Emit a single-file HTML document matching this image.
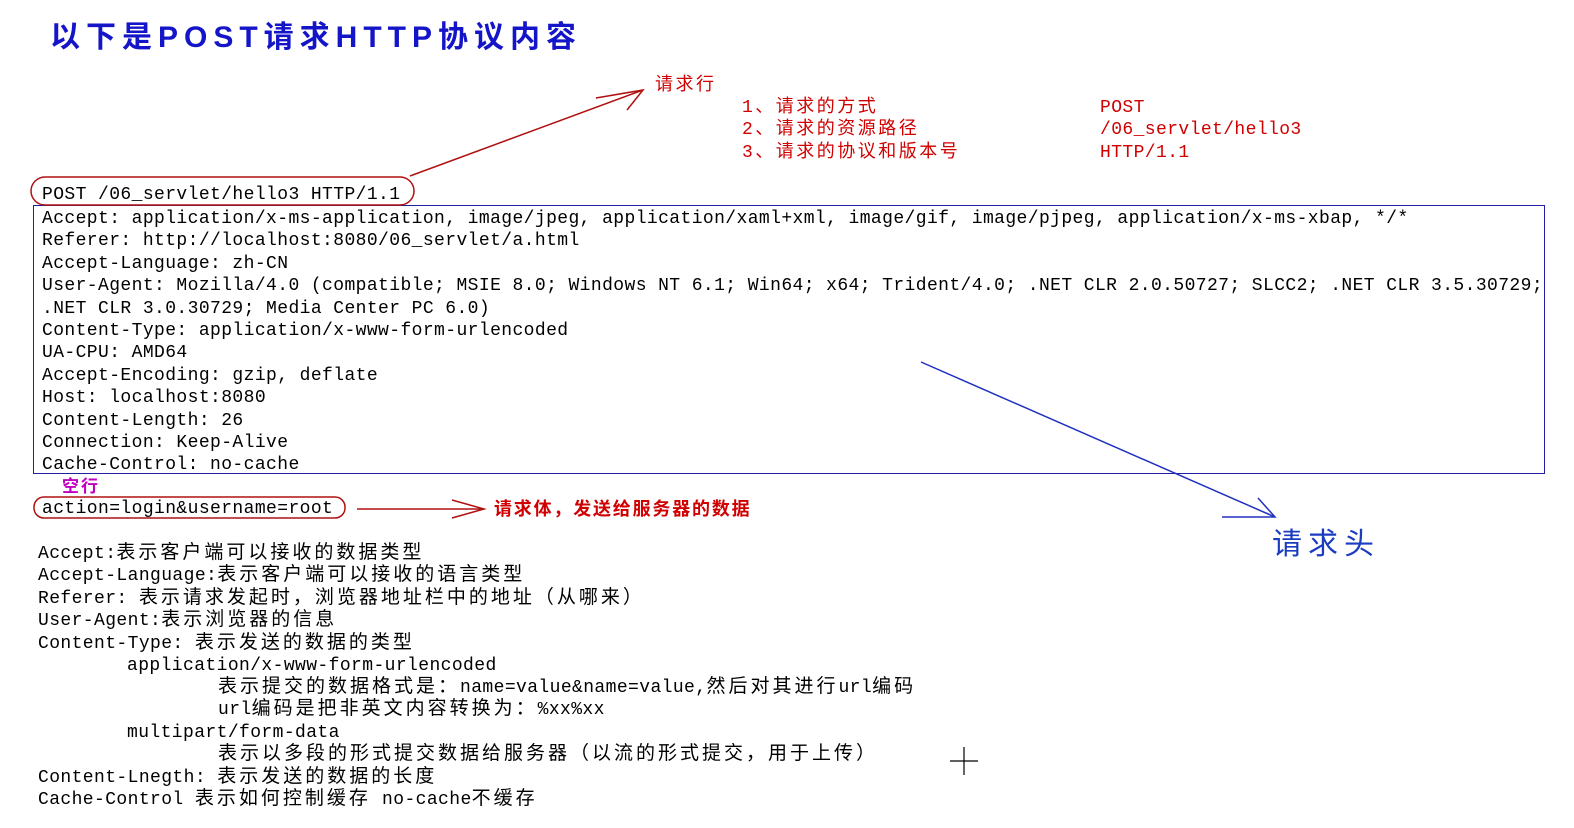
<!DOCTYPE html>
<html><head><meta charset="utf-8"><style>
body{margin:0;width:1574px;height:828px;background:#fff;position:relative;overflow:hidden;font-family:"Liberation Mono","Noto Sans CJK SC",monospace;}
.t{position:absolute;white-space:pre;font-size:18px;letter-spacing:0.4px;line-height:22.4px;color:#000;}
.c{font-size:19px;letter-spacing:3px;line-height:0;}
.r{color:#d00000;}
</style></head><body>
<div style="position:absolute;left:50px;top:12px;font-family:'Liberation Sans','Noto Sans CJK SC',sans-serif;font-weight:bold;font-size:30px;letter-spacing:6px;color:#1414c8;white-space:pre">以下是POST请求HTTP协议内容</div>
<div class="t r" style="left:655px;top:75px;font-size:18px;letter-spacing:2.5px">请求行</div>
<div class="t r" style="left:742px;top:97px;font-size:18px;letter-spacing:2.5px">1、请求的方式
2、请求的资源路径
3、请求的协议和版本号</div>
<div class="t r" style="left:1100px;top:97px">POST
/06_servlet/hello3
HTTP/1.1</div>
<div class="t" style="left:42px;top:184px">POST /06_servlet/hello3 HTTP/1.1</div>
<div style="position:absolute;left:33px;top:205px;width:1510px;height:267px;border:1.5px solid #2020a0"></div>
<div class="t" style="left:42px;top:208px">Accept: application/x-ms-application, image/jpeg, application/xaml+xml, image/gif, image/pjpeg, application/x-ms-xbap, */*
Referer: http://localhost:8080/06_servlet/a.html
Accept-Language: zh-CN
User-Agent: Mozilla/4.0 (compatible; MSIE 8.0; Windows NT 6.1; Win64; x64; Trident/4.0; .NET CLR 2.0.50727; SLCC2; .NET CLR 3.5.30729;
.NET CLR 3.0.30729; Media Center PC 6.0)
Content-Type: application/x-www-form-urlencoded
UA-CPU: AMD64
Accept-Encoding: gzip, deflate
Host: localhost:8080
Content-Length: 26
Connection: Keep-Alive
Cache-Control: no-cache</div>
<div class="t" style="left:62px;top:478px;color:#c000c0;font-weight:bold;font-size:17px;letter-spacing:2px">空行</div>
<div class="t" style="left:42px;top:498px">action=login&amp;username=root</div>
<div class="t r" style="left:494px;top:500px;font-weight:bold;font-size:18px;letter-spacing:1.8px">请求体，发送给服务器的数据</div>
<div class="t" style="left:1272px;top:530px;font-size:30px;letter-spacing:6px;color:#1a3cc0;line-height:34px">请求头</div>
<div class="t" style="left:38px;top:543px">Accept:<span class="c">表示客户端可以接收的数据类型</span>
Accept-Language:<span class="c">表示客户端可以接收的语言类型</span>
Referer: <span class="c">表示请求发起时，浏览器地址栏中的地址（从哪来）</span>
User-Agent:<span class="c">表示浏览器的信息</span>
Content-Type: <span class="c">表示发送的数据的类型</span></div>
<div class="t" style="left:127px;top:655px">application/x-www-form-urlencoded</div>
<div class="t" style="left:218px;top:677px"><span class="c">表示提交的数据格式是：</span>name=value&amp;name=value,<span class="c">然后对其进行</span>url<span class="c">编码</span>
url<span class="c">编码是把非英文内容转换为：</span>%xx%xx</div>
<div class="t" style="left:127px;top:722px">multipart/form-data</div>
<div class="t" style="left:218px;top:744px"><span class="c">表示以多段的形式提交数据给服务器（以流的形式提交，用于上传）</span></div>
<div class="t" style="left:38px;top:767px">Content-Lnegth: <span class="c">表示发送的数据的长度</span>
Cache-Control <span class="c">表示如何控制缓存</span> no-cache<span class="c">不缓存</span></div>
<svg width="1574" height="828" style="position:absolute;left:0;top:0">
<g fill="none" stroke="#b01010" stroke-width="1.5">
<rect x="31" y="177" width="383" height="28" rx="14"/>
<line x1="410" y1="176" x2="643" y2="90"/>
<polyline points="596,98 643,90 627,110"/>
<rect x="34" y="497" width="311" height="21" rx="10"/>
<line x1="357" y1="509" x2="484" y2="509"/>
<polyline points="452,500 484,509 452,518"/>
</g>
<g fill="none" stroke="#2030c0" stroke-width="1.5">
<line x1="921" y1="362" x2="1275" y2="517"/>
<polyline points="1222,517 1275,517 1258,498"/>
</g>
<g stroke="#000" stroke-width="1.2"><line x1="950" y1="761" x2="978" y2="761"/><line x1="964" y1="747" x2="964" y2="775"/></g>
</svg>
</body></html>
